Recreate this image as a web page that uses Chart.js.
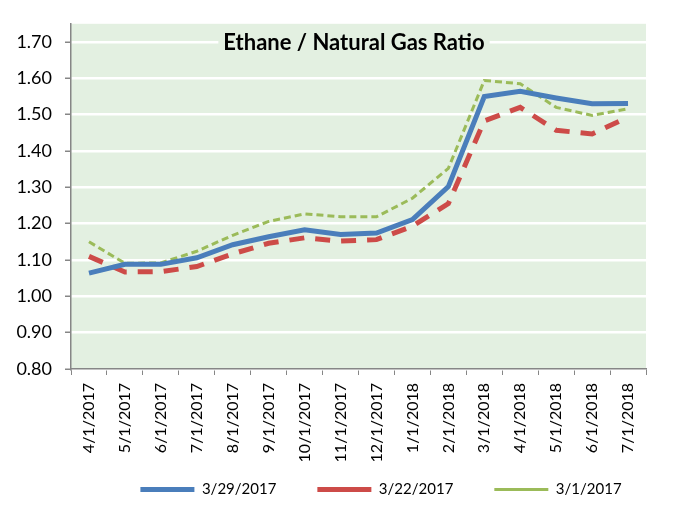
<!DOCTYPE html>
<html>
<head>
<meta charset="utf-8">
<script src="https://cdn.jsdelivr.net/npm/chart.js@4/dist/chart.umd.min.js"></script>
<style>
  html, body { margin: 0; padding: 0; background: #fff; }
  #wrap { width: 683px; height: 521px; }
</style>
</head>
<body>
<div id="wrap"><canvas id="myChart" width="683" height="521"></canvas></div>
<script>
const labels = ['4/1/2017', '5/1/2017', '6/1/2017', '7/1/2017', '8/1/2017', '9/1/2017',
  '10/1/2017', '11/1/2017', '12/1/2017', '1/1/2018', '2/1/2018', '3/1/2018',
  '4/1/2018', '5/1/2018', '6/1/2018', '7/1/2018'];

const mar29 = [1.064, 1.088, 1.088, 1.106, 1.142, 1.164, 1.183, 1.170, 1.174,
  1.211, 1.302, 1.550, 1.564, 1.546, 1.530, 1.531];
const mar22 = [1.110, 1.067, 1.068, 1.082, 1.117, 1.146, 1.161, 1.152, 1.156,
  1.193, 1.255, 1.483, 1.520, 1.457, 1.447, 1.493];
const mar01 = [1.150, 1.091, 1.092, 1.124, 1.168, 1.206, 1.227, 1.219, 1.219,
  1.270, 1.352, 1.594, 1.585, 1.520, 1.498, 1.516];

const yTicks = [0.8, 0.9, 1.0, 1.1, 1.2, 1.3, 1.4, 1.5, 1.6, 1.7];

const plotBg = '#e3f0e1';
const font = 'Lato, "Open Sans", sans-serif';

// plot area fill and the title sitting inside it
const plotArea = {
  id: 'plotArea',
  afterLayout(chart) {
    // nudge the legend row to where the original has it
    const lg = chart.legend;
    lg.left += 58; lg.right += 58;
    lg.top -= 20; lg.bottom = chart.height;
    lg.height = lg.bottom - lg.top;
  },
  beforeDraw(chart) {
    const a = chart.chartArea;
    const ctx = chart.ctx;
    ctx.save();
    ctx.fillStyle = plotBg;
    ctx.fillRect(a.left, a.top, a.right - a.left, a.bottom - a.top);
    ctx.restore();
  },
  afterDatasetsDraw(chart) {
    const ctx = chart.ctx;
    const text = 'Ethane / Natural Gas Ratio';
    ctx.save();
    ctx.font = 'bold 22px ' + font;
    const w = ctx.measureText(text).width;
    ctx.fillStyle = plotBg;
    ctx.fillRect(354 - w / 2 - 5, 30, w + 10, 26);
    ctx.fillStyle = '#000';
    ctx.textAlign = 'center';
    ctx.textBaseline = 'middle';
    ctx.fillText(text, 354, 43);
    ctx.restore();
  }
};

const config = {
  type: 'line',
  data: {
    labels: labels,
    datasets: [{
      label: '3/29/2017',
      data: mar29,
      borderColor: '#4a7ebb',
      backgroundColor: '#4a7ebb',
      borderWidth: 5,
      pointRadius: 0,
      tension: 0
    }, {
      label: '3/22/2017',
      data: mar22,
      borderColor: '#cd4b48',
      backgroundColor: '#cd4b48',
      borderWidth: 5,
      borderDash: [15, 11],
      pointRadius: 0,
      tension: 0
    }, {
      label: '3/1/2017',
      data: mar01,
      borderColor: '#9bbb59',
      backgroundColor: '#9bbb59',
      borderWidth: 3,
      borderDash: [7, 4],
      pointRadius: 0,
      tension: 0
    }]
  },
  options: {
    responsive: false,
    animation: false,
    layout: { padding: { top: 23, right: 37, left: 0, bottom: 10 } },
    plugins: {
      title: { display: false },
      tooltip: { enabled: false },
      legend: {
        position: 'bottom',
        maxHeight: 50,
        labels: {
          usePointStyle: true,
          pointStyle: 'line',
          pointStyleWidth: 54,
          boxHeight: 16,
          padding: 41,
          color: '#000',
          font: { family: font, size: 15 }
        }
      }
    },
    scales: {
      x: {
        offset: true,
        grid: {
          offset: true,
          drawOnChartArea: false,
          color: '#868686',
          tickLength: 6
        },
        border: { color: '#868686', width: 1.5 },
        ticks: {
          minRotation: 90,
          maxRotation: 90,
          autoSkip: false,
          color: '#000',
          padding: 8,
          font: { family: font, size: 16 }
        },
        afterFit(scale) { scale.height = 92; }
      },
      y: {
        min: 0.8,
        max: 1.75,
        afterBuildTicks(scale) {
          scale.ticks = yTicks.map(v => ({ value: v }));
        },
        grid: {
          color: '#ffffff',
          lineWidth: 2.5,
          tickColor: '#868686',
          tickLength: 6,
          tickWidth: 1.5
        },
        border: { color: '#868686', width: 1.5 },
        ticks: {
          color: '#000',
          padding: 13,
          font: { family: font, size: 18 },
          callback: v => v.toFixed(2)
        },
        afterFit(scale) { scale.width = 71; }
      }
    }
  },
  plugins: [plotArea]
};

let myChart = new Chart(document.getElementById('myChart'), config);
</script>
</body>
</html>
